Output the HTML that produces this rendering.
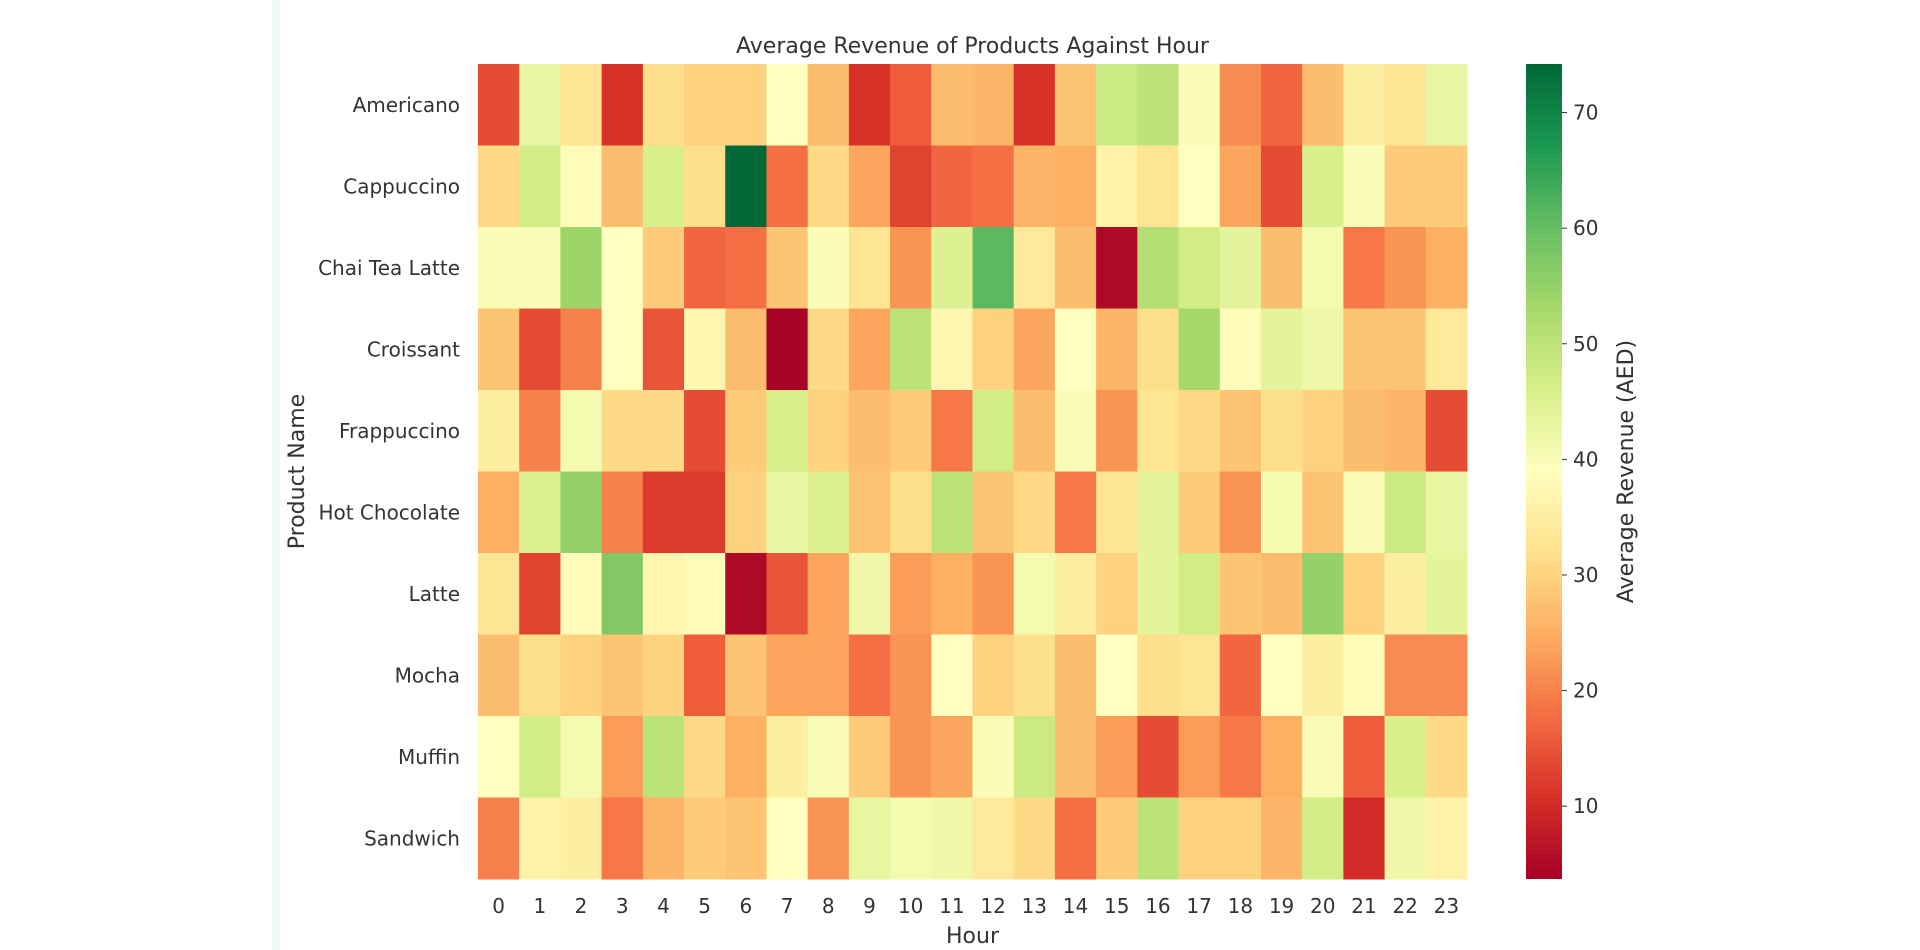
<!DOCTYPE html>
<html><head><meta charset="utf-8"><style>
body{margin:0;background:#fff;width:1920px;height:950px;overflow:hidden;font-family:"DejaVu Sans","Liberation Sans",sans-serif}
</style></head><body>
<div style="position:absolute;left:272px;top:0;width:8px;height:950px;background:#eef8f4"></div>
<svg id="chart" width="1920" height="950" style="position:absolute;left:0;top:0" font-family="DejaVu Sans, Liberation Sans, sans-serif" fill="#333"></svg>
<script>
const products=["Americano","Cappuccino","Chai Tea Latte","Croissant","Frappuccino","Hot Chocolate","Latte","Mocha","Muffin","Sandwich"];
const hours=["0","1","2","3","4","5","6","7","8","9","10","11","12","13","14","15","16","17","18","19","20","21","22","23"];
const rowAmericano=[14,43,33,11,32,30,30,39,27,11,16,27,26,11,28,48,50,40,21,17,27,35,33,43];
const rowCappuccino=[31,47,38,27,46,32,74,18,31,24,13,17,18,26,25,36,33,39,24,14,46,40,29,29];
const rowChai=[40,40,54,39,29,17,18,28,40,33,22,45,61,34,27,5,51,47,44,27,41,19,22,25];
const rowCroissant=[28,14,20,39,15,37,27,4,31,24,50,37,30,24,39,26,32,53,38,44,42,28,28,34];
const rowFrappuccino=[35,20,41,31,31,14,29,46,30,27,29,19,47,27,40,22,33,31,28,32,30,27,26,14];
const rowHotChocolate=[25,45,55,20,12,12,30,43,45,28,32,50,28,31,19,33,44,29,22,41,28,40,48,43];
const rowLatte=[33,13,38,57,37,38,5,15,24,42,23,25,22,41,35,30,44,47,28,27,55,30,35,44];
const rowMocha=[27,32,30,28,30,16,28,24,24,18,22,39,30,32,27,39,32,33,17,39,35,38,21,21];
const rowMuffin=[39,47,41,23,50,31,25,35,40,29,22,24,40,48,27,23,14,23,19,25,40,16,46,31];
const rowSandwich=[20,36,35,19,26,29,28,39,22,43,41,42,34,31,18,29,50,30,30,26,47,10,42,36];
const values=[rowAmericano,rowCappuccino,rowChai,rowCroissant,rowFrappuccino,rowHotChocolate,rowLatte,rowMocha,rowMuffin,rowSandwich];
const cbTicks=[10,20,30,40,50,60,70];
const vmin=3.7,vmax=74.2;

const svg=document.getElementById('chart');
const NS='http://www.w3.org/2000/svg';
const L=478,R=1467,T=64,B=879;
const cw=(R-L)/hours.length,ch=(B-T)/products.length;
const xPos=i=>L+i*cw, yPos=j=>T+j*ch;
const stops=["#a50026","#d73027","#f46d43","#fdae61","#fee08b","#ffffbf","#d9ef8b","#a6d96a","#66bd63","#1a9850","#006837"];
function hex(h){return [1,3,5].map(i=>parseInt(h.substr(i,2),16));}
function color(v){let t=Math.max(0,Math.min(1,(v-vmin)/(vmax-vmin)))*(stops.length-1);let i=Math.min(Math.floor(t),stops.length-2),f=t-i;const a=hex(stops[i]),b=hex(stops[i+1]);return 'rgb('+a.map((c,k)=>Math.round(c+(b[k]-c)*f)).join(',')+')';}
function mk(tag,attrs,text){const e=document.createElementNS(NS,tag);for(const k in attrs)e.setAttribute(k,attrs[k]);if(text!==undefined)e.textContent=text;svg.appendChild(e);return e;}

values.forEach((row,j)=>row.forEach((v,i)=>{
  const r=mk('rect',{x:xPos(i),y:yPos(j),width:cw+0.5,height:ch+0.5,fill:color(v)});
  
  
}));
products.forEach((p,j)=>{
  const t=mk('text',{x:460,y:yPos(j)+ch/2+7,'text-anchor':'end','font-size':20},p);
  
  
});
hours.forEach((h,i)=>{
  const t=mk('text',{x:xPos(i)+cw/2,y:913,'text-anchor':'middle','font-size':20},h);
  
  
});
let e;
e=mk('text',{x:(L+R)/2,y:53,'text-anchor':'middle','font-size':22},'Average Revenue of Products Against Hour');

e=mk('text',{x:(L+R)/2,y:943,'text-anchor':'middle','font-size':22},'Hour');

e=mk('text',{x:0,y:0,'text-anchor':'middle','font-size':22,transform:'translate(304,'+((T+B)/2)+') rotate(-90)'},'Product Name');


// colorbar
const cx=1526,cwid=36;
const cy=v=>B-(v-vmin)/(vmax-vmin)*(B-T);
const defs=mk('defs',{});
const g=document.createElementNS(NS,'linearGradient');g.setAttribute('id','cb');g.setAttribute('x1','0');g.setAttribute('y1','1');g.setAttribute('x2','0');g.setAttribute('y2','0');
stops.forEach((s,i)=>{const st=document.createElementNS(NS,'stop');st.setAttribute('offset',i/(stops.length-1));st.setAttribute('stop-color',s);g.appendChild(st);});
defs.appendChild(g);
e=mk('rect',{x:cx,y:T,width:cwid,height:B-T,fill:'url(#cb)'});

cbTicks.forEach(v=>{
  mk('line',{x1:cx+cwid,x2:cx+cwid+5,y1:cy(v),y2:cy(v),stroke:'#333','stroke-width':1});
  const t=mk('text',{x:cx+cwid+11,y:cy(v)+7,'font-size':20},v);
  
  
});
e=mk('text',{x:0,y:0,'text-anchor':'middle','font-size':22,transform:'translate(1633,'+((T+B)/2)+') rotate(-90)'},'Average Revenue (AED)');

</script>
</body></html>
